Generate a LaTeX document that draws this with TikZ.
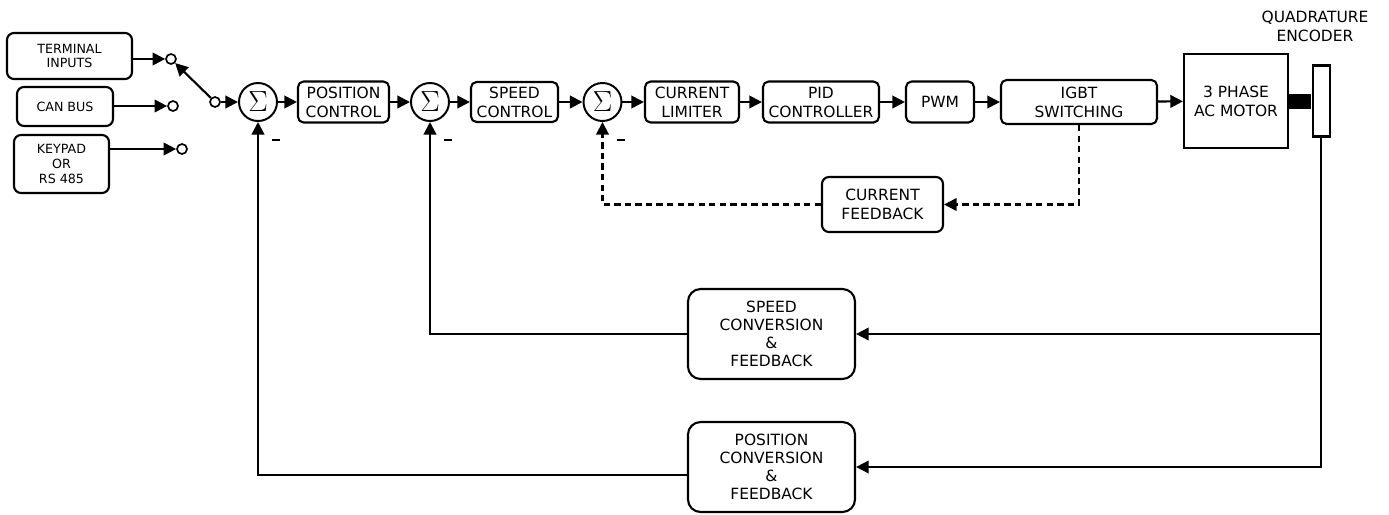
\documentclass[tikz,border=0pt]{standalone}
\usepackage[no-math]{fontspec}
\setmainfont{DejaVu Sans}
\usetikzlibrary{arrows.meta}

\begin{document}
\begin{tikzpicture}[x=0.025cm,y=-0.025cm,
    every node/.style={font=\fontsize{11}{13.5}\selectfont,align=center},
    blk/.style={draw,rounded corners=4pt,line width=1.5pt,inner sep=1pt},
    inbox/.style={blk,rounded corners=5pt,font=\fontsize{9}{10.6}\selectfont},
    conv/.style={blk,rounded corners=9pt,minimum width=4.175cm,minimum height=2.25cm,
      font=\fontsize{11}{12.8}\selectfont},
    summer/.style={draw,circle,line width=1.4pt,minimum size=0.95cm,inner sep=0pt},
    port/.style={draw,circle,line width=1.2pt,minimum size=0.25cm,inner sep=0pt},
    arr/.style={-{Triangle[length=9pt,width=9pt]},line width=1.5pt},
    fb/.style={arr,dash pattern=on 4.5pt off 3pt}]
  \useasboundingbox (0,0) rectangle (1389,514);
  % inputs and selector switch
  \node[inbox,minimum width=3.125cm,minimum height=1.15cm] (tbox) at (69.5,56) {TERMINAL\\INPUTS};
  \node[inbox,minimum width=2.4cm,minimum height=0.975cm] (canbox) at (65,106.5) {CAN BUS};
  \node[inbox,minimum width=2.375cm,minimum height=1.45cm] (keybox) at (61.5,164) {KEYPAD\\OR\\RS 485};
  \node[port] (tin) at (171,59) {};
  \node[port] (cin) at (173,106) {};
  \node[port] (kin) at (182,149) {};
  \node[port] (pivot) at (215,102) {};
  \draw[arr] (tbox.east |- tin) -- (tin);
  \draw[arr] (canbox.east |- cin) -- (cin);
  \draw[arr] (keybox.east |- kin) -- (kin);
  \draw[arr] (pivot) -- (tin);
  %% the forward chain
  \node[summer] (sumpos) at (258,102) {\huge$\Sigma$};
  \node[blk,minimum width=2.275cm,minimum height=1.025cm] (posctrl) at (343.5,102) {POSITION\\CONTROL};
  \node[summer] (sumspd) at (430,102) {\huge$\Sigma$};
  \node[blk,minimum width=2.175cm,minimum height=1cm] (spdctrl) at (514.5,102) {SPEED\\CONTROL};
  \node[summer] (sumcur) at (602.5,102) {\huge$\Sigma$};
  \node[blk,minimum width=2.35cm,minimum height=1.025cm] (curlim) at (692,102) {CURRENT\\LIMITER};
  \node[blk,minimum width=2.9cm,minimum height=1.025cm] (pid) at (821,102) {PID\\CONTROLLER};
  \node[blk,minimum width=1.7cm,minimum height=1.025cm] (pwm) at (940,102) {PWM};
  \node[blk,minimum width=3.9cm,minimum height=1.1cm] (igbt) at (1079,102) {IGBT\\SWITCHING};
  \node[draw,line width=1.5pt,minimum width=2.6cm,minimum height=2.35cm] (motor) at (1236,101) {3 PHASE\\AC MOTOR};
  \node[fill,inner sep=0pt,minimum width=0.55cm,minimum height=0.375cm,anchor=west] (shaft) at (motor.east) {};
  \node[draw,line width=1.5pt,inner sep=0pt,minimum width=0.425cm,minimum height=1.775cm,anchor=west] (enc) at (shaft.east) {};
  \node (enclbl) at (1315,26.5) {QUADRATURE\\ENCODER};
  \foreach \a/\b in {pivot/sumpos,sumpos/posctrl,posctrl/sumspd,sumspd/spdctrl,spdctrl/sumcur,
      sumcur/curlim,curlim/pid,pid/pwm,pwm/igbt,igbt/motor}
    \draw[arr] (\a) -- (\b);
  \foreach \s in {sumpos,sumspd,sumcur}
    \node[inner sep=0pt] (\s-minus) at ([xshift=0.45cm,yshift=-0.45cm]\s.south) {\rule{0.2cm}{0.065cm}};
  %% feedback paths
  \node[blk,rounded corners=5pt,minimum width=3.025cm,minimum height=1.375cm] (curfb) at (882.5,204.5) {CURRENT\\FEEDBACK};
  \node[conv] (spdconv) at (771.5,334) {SPEED\\CONVERSION\\\&\\FEEDBACK};
  \node[conv] (posconv) at (771.5,467) {POSITION\\CONVERSION\\\&\\FEEDBACK};
  \draw[fb] (igbt.south) |- (curfb.east);
  \draw[fb] (curfb.west) -| (sumcur.south);
  \draw[arr,line width=1.2pt] (enc.south) |- (posconv.east);
  \draw[arr,line width=1.2pt] (enc.south |- spdconv.east) -- (spdconv.east);
  \draw[arr] (spdconv.west) -| (sumspd.south);
  \draw[arr] ([yshift=-0.2cm]posconv.west) -| (sumpos.south);
\end{tikzpicture}
\end{document}
